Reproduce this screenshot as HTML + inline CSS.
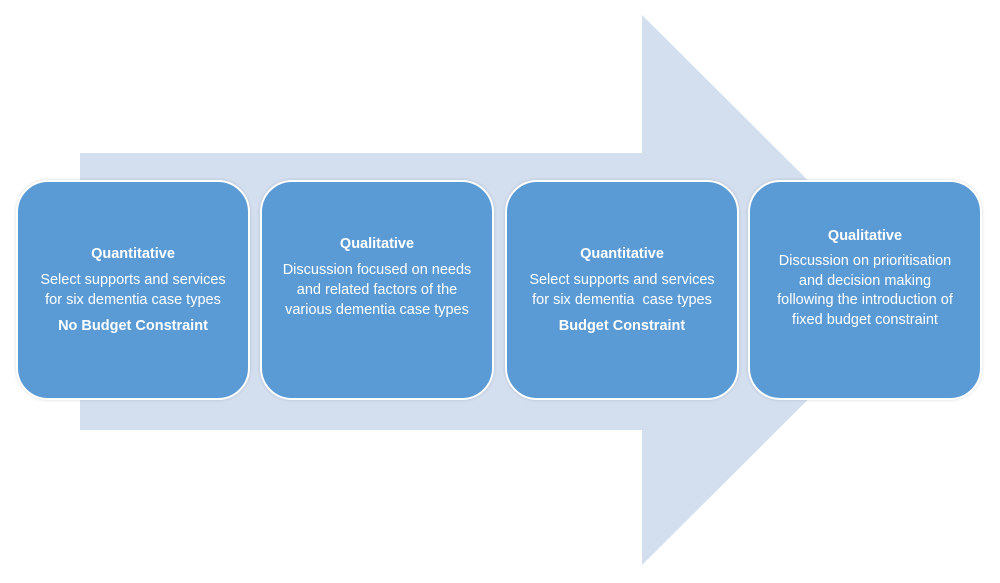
<!DOCTYPE html>
<html><head><style>
body{margin:0;width:1000px;height:583px;background:#fff;position:relative;overflow:hidden;font-family:"Liberation Sans",sans-serif}
svg{position:absolute;left:0;top:0}
.b{position:absolute;top:180px;width:234px;height:220px;background:#5b9bd5;border:2px solid #fff;border-radius:32px;box-sizing:border-box;color:#fff;text-align:center;font-size:14.5px;line-height:20px;box-shadow:0 0 3px rgba(0,0,0,0.15)}
.b div{position:absolute;left:0;right:0}
.t{font-weight:bold}
</style></head><body>
<svg width="1000" height="583"><polygon points="80,153 642,153 642,15 918,290 642,565 642,430 80,430" fill="#d3deef"/></svg>
<div class="b" style="left:16px"><div style="top:62px"><div class="t" style="position:static">Quantitative</div><div style="position:static;margin-top:6px">Select supports and services<br>for six dementia case types</div><div class="t" style="position:static;margin-top:6px">No Budget Constraint</div></div></div>
<div class="b" style="left:260px"><div style="top:52px"><div class="t" style="position:static">Qualitative</div><div style="position:static;margin-top:6px">Discussion focused on needs<br>and related factors of the<br>various dementia case types</div></div></div>
<div class="b" style="left:505px"><div style="top:62px"><div class="t" style="position:static">Quantitative</div><div style="position:static;margin-top:6px">Select supports and services<br>for six dementia&nbsp; case types</div><div class="t" style="position:static;margin-top:6px">Budget Constraint</div></div></div>
<div class="b" style="left:748px"><div style="top:44px"><div class="t" style="position:static">Qualitative</div><div style="position:static;margin-top:6px;line-height:19.5px">Discussion on prioritisation<br>and decision making<br>following the introduction of<br>fixed budget constraint</div></div></div>
</body></html>
